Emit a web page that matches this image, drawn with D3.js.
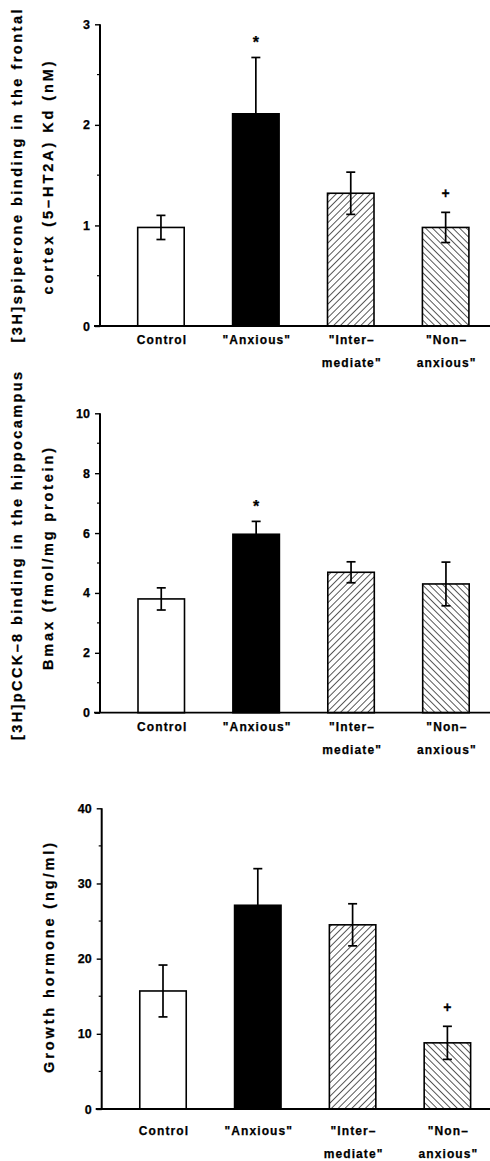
<!DOCTYPE html>
<html>
<head>
<meta charset="utf-8">
<script src="https://cdn.jsdelivr.net/npm/d3@7"></script>
<style>
  html, body { margin: 0; padding: 0; background: #fff; }
  svg { display: block; }
  text { font-family: "Liberation Sans", Arial, Helvetica, sans-serif; font-weight: bold; fill: #000;
         stroke: #000; stroke-width: 0.25px; }
</style>
</head>
<body>
<svg id="fig" width="490" height="1161"></svg>
<script>
// Groups shown on every panel (two-line labels split at "|")
const groups = ["Control", "\"Anxious\"", "\"Inter–|mediate\"", "\"Non–|anxious\""];
const fills = ["white", "black", "hatchUp", "hatchDown"];

// Panel A: [3H]spiperone binding, frontal cortex (Kd, nM)
const spiperoneMean = [0.98, 2.11, 1.32, 0.98];
const spiperoneSem  = [0.12, 0.56, 0.21, 0.15];
const spiperoneMark = ["", "*", "", "+"];
const spiperoneTicks = [0, 1, 2, 3];

// Panel B: [3H]pCCK-8 binding, hippocampus (Bmax, fmol/mg protein)
const cckMean = [3.80, 5.96, 4.69, 4.30];
const cckSem  = [0.37, 0.43, 0.35, 0.73];
const cckMark = ["", "*", "", ""];
const cckTicks = [0, 2, 4, 6, 8, 10];

// Panel C: growth hormone (ng/ml)
const ghMean = [15.7, 27.1, 24.5, 8.8];
const ghSem  = [3.45, 4.87, 2.8, 2.2];
const ghMark = ["", "", "", "+"];
const ghTicks = [0, 10, 20, 30, 40];

const svg = d3.select("#fig");

// Diagonal hatch fills
const defs = svg.append("defs");
function hatch(id, angle) {
  const s = 4.8;
  const p = defs.append("pattern")
    .attr("id", id)
    .attr("patternUnits", "userSpaceOnUse")
    .attr("width", s).attr("height", s)
    .attr("patternTransform", `rotate(${angle})`);
  p.append("rect").attr("width", s).attr("height", s).attr("fill", "white");
  p.append("line").attr("x1", 0).attr("y1", 0).attr("x2", 0).attr("y2", s)
    .attr("stroke", "#000").attr("stroke-width", 1.3);
}
hatch("hatchUp", 45);
hatch("hatchDown", -45);

const panels = [
  { mean: spiperoneMean, sem: spiperoneSem, mark: spiperoneMark, ticks: spiperoneTicks,
    max: 3, minorStep: 0.5, axisX: 100, y0: 326, y1: 24.3, bandStart: 113.5, step: 94.9,
    labelY: 344, title: ["[3H]spiperone binding in the frontal", "cortex (5–HT2A) Kd (nM)"],
    titleLen: [333, 233], titleCy: [176, 178] },
  { mean: cckMean, sem: cckSem, mark: cckMark, ticks: cckTicks,
    max: 10, minorStep: 1, axisX: 100, y0: 712.7, y1: 413.3, bandStart: 113.8, step: 94.9,
    labelY: 731, title: ["[3H]pCCK–8 binding in the hippocampus", "Bmax (fmol/mg protein)"],
    titleLen: [368, 222], titleCy: [556, 559] },
  { mean: ghMean, sem: ghSem, mark: ghMark, ticks: ghTicks,
    max: 40, minorStep: 5, axisX: 101.7, y0: 1109, y1: 808.3, bandStart: 115.6, step: 94.8,
    labelY: 1135, title: ["Growth hormone (ng/ml)"],
    titleLen: [230], titleCy: [958] }
];

const titleX = { 2: [17, 48], 1: [49] };

panels.forEach(P => {
  const g = svg.append("g");
  const y = d3.scaleLinear().domain([0, P.max]).range([P.y0, P.y1]);
  const x = d3.scaleBand().domain(groups)
    .range([P.bandStart, P.bandStart + P.step * groups.length])
    .paddingInner(0.51).paddingOuter(0.255);

  // Bars
  g.selectAll("rect.bar").data(P.mean).join("rect")
    .attr("class", "bar")
    .attr("x", (d, i) => x(groups[i]))
    .attr("width", x.bandwidth())
    .attr("y", d => y(d))
    .attr("height", d => y(0) - y(d))
    .attr("fill", (d, i) => fills[i].startsWith("hatch") ? `url(#${fills[i]})` : fills[i])
    .attr("stroke", "#000").attr("stroke-width", 1.6);

  // Error bars (mean ± SEM); the lower half vanishes into a solid black bar
  const cap = 4.5;
  P.mean.forEach((m, i) => {
    const cx = x(groups[i]) + x.bandwidth() / 2;
    const hi = y(m + P.sem[i]), lo = y(m - P.sem[i]);
    const bottom = fills[i] === "black" ? y(m) : lo;
    g.append("line").attr("x1", cx).attr("x2", cx).attr("y1", hi).attr("y2", bottom)
      .attr("stroke", "#000").attr("stroke-width", 1.7);
    const caps = fills[i] === "black" ? [hi] : [hi, lo];
    caps.forEach(yy => g.append("line")
      .attr("x1", cx - cap).attr("x2", cx + cap).attr("y1", yy).attr("y2", yy)
      .attr("stroke", "#000").attr("stroke-width", 1.7));
    if (P.mark[i]) {
      g.append("text").attr("x", cx).attr("y", hi - 19.5)
        .attr("text-anchor", "middle").attr("dominant-baseline", "central")
        .style("font-size", P.mark[i] === "*" ? "16px" : "14px")
        .attr("dy", P.mark[i] === "*" ? "0.3em" : "0")
        .text(P.mark[i]);
    }
  });

  // Y axis with major and minor ticks
  const axis = d3.axisLeft(y).tickValues(P.ticks).tickSize(5).tickPadding(5)
    .tickFormat(d3.format("d"));
  const ag = g.append("g").attr("transform", `translate(${P.axisX},0)`).call(axis);
  ag.select(".domain").attr("stroke", "#000").attr("stroke-width", 2)
    .attr("d", `M0,${y(P.max)}V${y(0)}`);
  ag.selectAll(".tick line").attr("stroke", "#000").attr("stroke-width", 1.4);
  ag.selectAll(".tick text").style("font-size", "12.5px").attr("fill", "#000")
    .style("font-family", "'Liberation Sans', Arial, sans-serif").style("font-weight", "bold");
  const minor = d3.range(P.minorStep, P.max, P.minorStep).filter(v => !P.ticks.includes(v));
  ag.selectAll("line.minor").data(minor).join("line")
    .attr("class", "minor").attr("x1", -3).attr("x2", 0)
    .attr("y1", d => y(d)).attr("y2", d => y(d))
    .attr("stroke", "#000").attr("stroke-width", 1.2);

  // Baseline running to the right edge
  g.append("line").attr("x1", P.axisX - 6).attr("x2", 490)
    .attr("y1", y(0)).attr("y2", y(0))
    .attr("stroke", "#000").attr("stroke-width", 1.8);

  // Category labels
  groups.forEach((lab, i) => {
    const cx = x(lab) + x.bandwidth() / 2;
    const lines = lab.split("|");
    const t = g.append("text").attr("x", cx).attr("y", P.labelY)
      .attr("text-anchor", "middle").style("font-size", "12px")
      .style("letter-spacing", "1.1px");
    lines.forEach((s, k) => t.append("tspan").attr("x", cx + 1).attr("dy", k ? 22.5 : 0).text(s));
  });

  // Rotated Y title
  const tx = titleX[P.title.length];
  P.title.forEach((s, k) => {
    g.append("text")
      .attr("transform", `translate(${tx[k]},${P.titleCy[k]}) rotate(-90)`)
      .attr("text-anchor", "middle").attr("dominant-baseline", "central")
      .attr("textLength", P.titleLen[k]).attr("lengthAdjust", "spacing")
      .style("font-size", "14.5px")
      .text(s);
  });
});
</script>
</body>
</html>
